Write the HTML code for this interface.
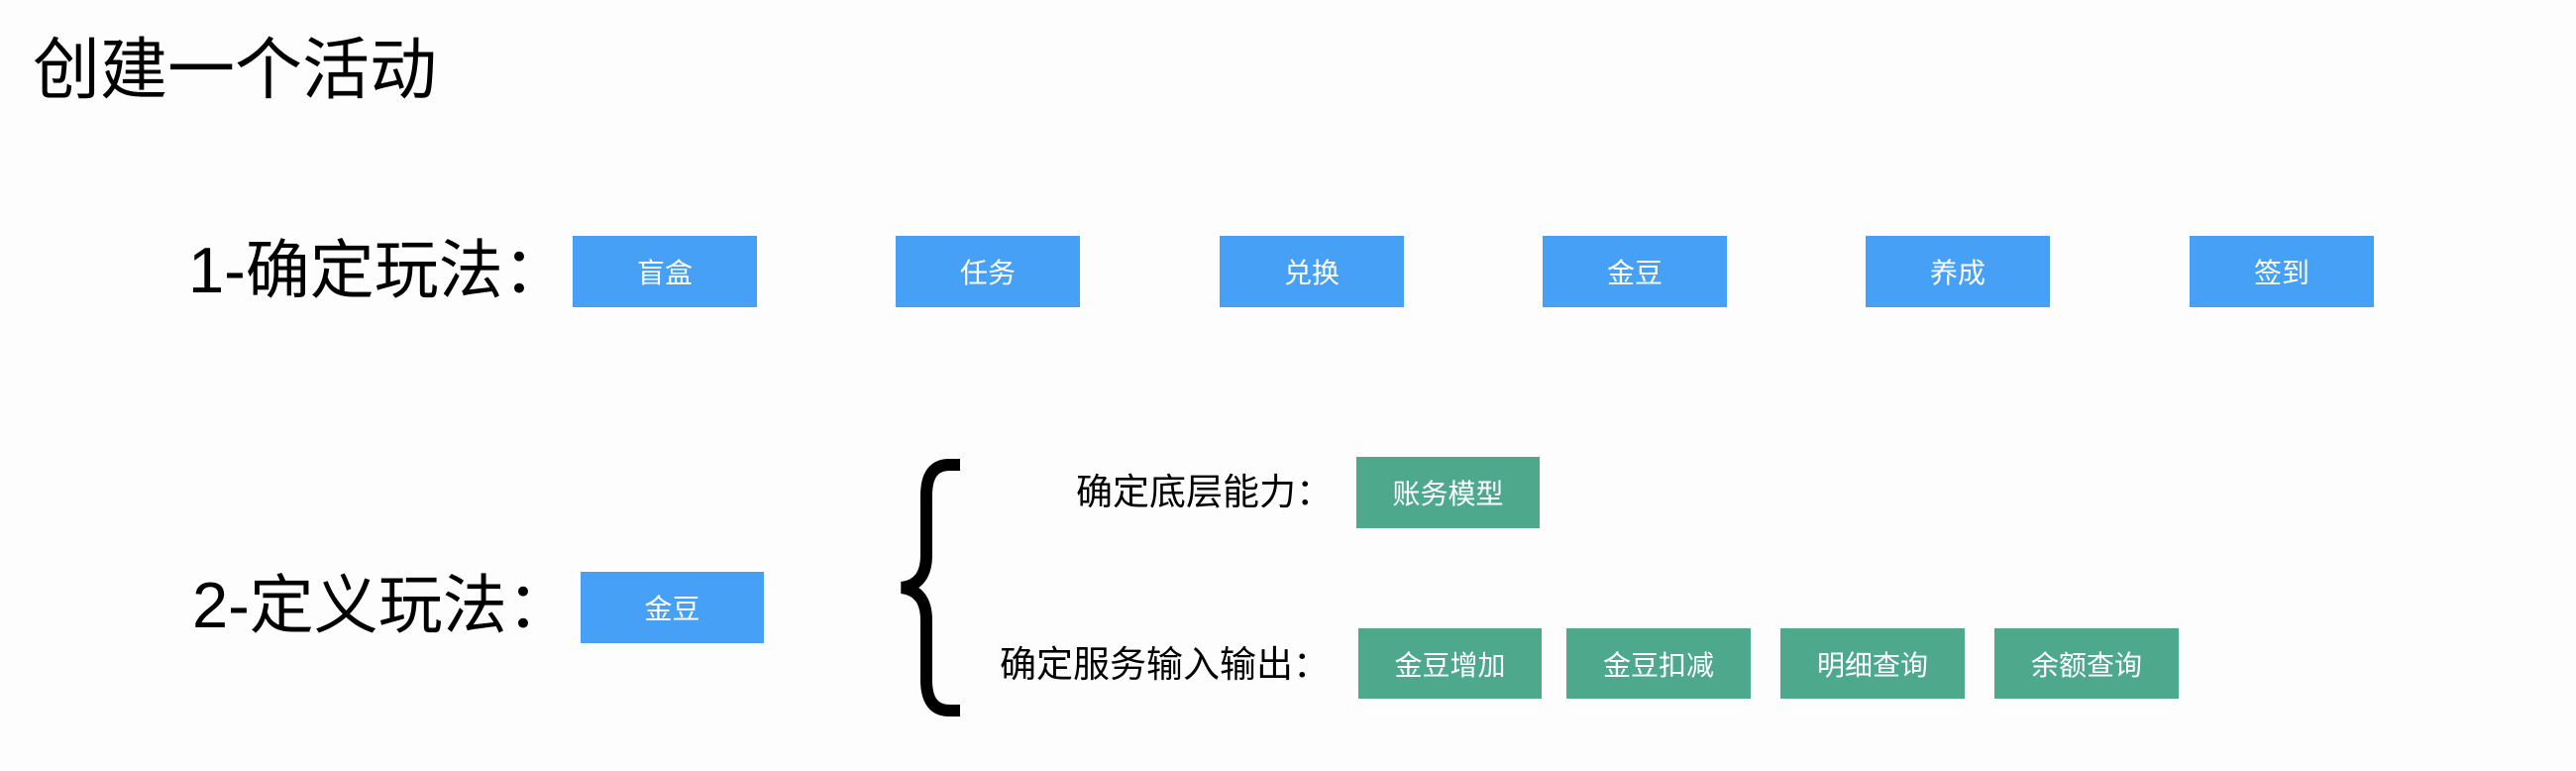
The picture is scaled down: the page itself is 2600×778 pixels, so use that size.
<!DOCTYPE html>
<html><head><meta charset="utf-8"><style>
body{margin:0;width:2600px;height:778px;background:#fdfdfd;position:relative;overflow:hidden;font-family:"Liberation Sans","Noto Sans CJK SC",sans-serif;color:#000}
.t{position:absolute;white-space:nowrap;line-height:1}
.b{position:absolute;color:#fff;font-size:28px;display:flex;align-items:center;justify-content:center}
.bl{background:#46a0f5;top:238px;height:72px;width:186px}
.g{background:#4ea98c}
</style></head><body>
<div class="t" style="left:33px;top:37px;font-size:68px">创建一个活动</div>
<div class="t" style="left:190px;top:240px;font-size:65px">1-确定玩法：</div>
<div class="b bl" style="left:578px">盲盒</div>
<div class="b bl" style="left:904px">任务</div>
<div class="b bl" style="left:1231px">兑换</div>
<div class="b bl" style="left:1557px">金豆</div>
<div class="b bl" style="left:1883px">养成</div>
<div class="b bl" style="left:2210px">签到</div>
<div class="t" style="left:194px;top:578px;font-size:65px">2-定义玩法：</div>
<div class="b" style="background:#46a0f5;left:586px;top:577px;width:185px;height:72px">金豆</div>
<svg style="position:absolute;left:0;top:0" width="2600" height="778"><path d="M969 469 H958 Q935 469 935 500 V560 Q935 590 910 593 Q935 596 935 626 V686 Q935 717 958 717 H969" fill="none" stroke="#000" stroke-width="12"/></svg>
<div class="t" style="left:1086px;top:478px;font-size:37px">确定底层能力：</div>
<div class="b g" style="left:1369px;top:461px;width:185px;height:72px">账务模型</div>
<div class="t" style="left:1009px;top:652px;font-size:37px">确定服务输入输出：</div>
<div class="b g" style="left:1371px;top:634px;width:185px;height:71px">金豆增加</div>
<div class="b g" style="left:1581px;top:634px;width:186px;height:71px">金豆扣减</div>
<div class="b g" style="left:1797px;top:634px;width:186px;height:71px">明细查询</div>
<div class="b g" style="left:2013px;top:634px;width:186px;height:71px">余额查询</div>
</body></html>
